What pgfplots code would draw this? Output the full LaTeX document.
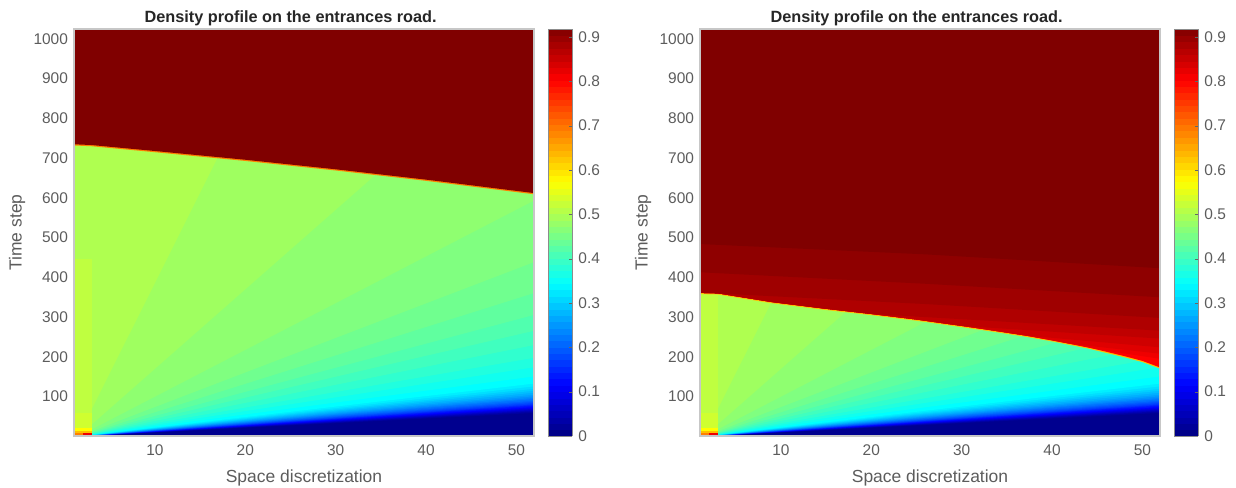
\documentclass[border=0pt]{standalone}
\usepackage{pgfplots}
\pgfplotsset{compat=1.18}
\usepackage{fontspec}
\setmainfont{Liberation Sans}
\newcommand\J[4]{\definecolor{j#1}{rgb}{#2,#3,#4}}
\J{0}{0}{0}{.5625}\J{1}{0}{0}{.625}\J{2}{0}{0}{.6875}\J{3}{0}{0}{.75}\J{4}{0}{0}{.8125}\J{5}{0}{0}{.875}\J{6}{0}{0}{.9375}\J{7}{0}{0}{1}
\J{8}{0}{.0625}{1}\J{9}{0}{.125}{1}\J{10}{0}{.1875}{1}\J{11}{0}{.25}{1}\J{12}{0}{.3125}{1}\J{13}{0}{.375}{1}\J{14}{0}{.4375}{1}\J{15}{0}{.5}{1}
\J{16}{0}{.5625}{1}\J{17}{0}{.625}{1}\J{18}{0}{.6875}{1}\J{19}{0}{.75}{1}\J{20}{0}{.8125}{1}\J{21}{0}{.875}{1}\J{22}{0}{.9375}{1}\J{23}{0}{1}{1}
\J{24}{.0625}{1}{.9375}\J{25}{.125}{1}{.875}\J{26}{.1875}{1}{.8125}\J{27}{.25}{1}{.75}\J{28}{.3125}{1}{.6875}\J{29}{.375}{1}{.625}\J{30}{.4375}{1}{.5625}\J{31}{.5}{1}{.5}
\J{32}{.5625}{1}{.4375}\J{33}{.625}{1}{.375}\J{34}{.6875}{1}{.3125}\J{35}{.75}{1}{.25}\J{36}{.8125}{1}{.1875}\J{38}{.9375}{1}{.0625}\J{39}{1}{1}{0}
\J{44}{1}{.75}{0}\J{48}{1}{.5}{0}\J{52}{1}{.25}{0}\J{55}{1}{0}{0}\J{56}{.9375}{0}{0}\J{57}{.875}{0}{0}\J{58}{.8125}{0}{0}\J{59}{.75}{0}{0}\J{60}{.6875}{0}{0}\J{61}{.625}{0}{0}\J{62}{.5625}{0}{0}\J{63}{.5}{0}{0}
\definecolor{txt}{rgb}{.36,.36,.36}
\pgfplotsset{
  panel/.style={
    scale only axis, width=345pt, height=305.25pt,
    anchor=south west,
    xmin=1.04, xmax=51.95, ymin=1, ymax=1025,
    xtick={10,20,30,40,50},
    ytick={100,200,300,400,500,600,700,800,900,1000},
    major tick length=0pt,
    axis on top,
    axis line style={draw=black!22, line width=1pt},
    tick label style={font=\fontsize{11.6}{12}\selectfont, text=txt, /pgf/number format/assume math mode=true, /pgf/number format/1000 sep={}},
    yticklabel style={xshift=-1pt},
    xticklabel style={yshift=-3pt},
    label style={font=\fontsize{13.1}{14}\selectfont, text=txt},
    xlabel={Space discretization},
    ylabel={Time step},
    xlabel style={at={(axis description cs:0.5,0)}, anchor=north, yshift=-21.7pt},
    ylabel style={at={(axis description cs:0,0.5)}, anchor=south, yshift=33pt},
    title={Density profile on the entrances road.},
    title style={font=\fontsize{12.2}{13}\selectfont\bfseries, text=black!85, at={(axis description cs:0.5,1)}, anchor=south, yshift=-7pt, xshift=-10pt},
    colorbar sampled,
    colormap/jet,
    point meta min=0, point meta max=0.918,
    colorbar style={
      samples=65,
      at={(parent axis.north east)}, anchor=north west, xshift=2.25pt,
      width=18pt, height=305.25pt,
      ytick={0,.1,.2,.3,.4,.5,.6,.7,.8,.9},
      yticklabels={0,0.1,0.2,0.3,0.4,0.5,0.6,0.7,0.8,0.9},
      ytick pos=right, yticklabel pos=right,
      major tick length=2.2pt,
      tick align=inside,
      major tick style={draw=black!60},
      axis line style={draw=black!45, line width=.5pt},
      yticklabel style={font=\fontsize{11.6}{12}\selectfont, text=txt, xshift=1pt},
      title={}, xlabel={}, ylabel={},
    },
  },
  band/.style={draw=none},
}
% rarefaction fan: lower ray of each colour level, from (1.5,0) to its height at x=52
\newcommand\fan{%
\addplot[band,fill=j0] coordinates {(1,1)(52,1)(52,2400)(1,2400)} --cycle;
\addplot[band,fill=j1] coordinates {(1.5,0)(52,59)(52,2400)(1.5,2400)} --cycle;
\addplot[band,fill=j2] coordinates {(1.5,0)(52,62)(52,2400)(1.5,2400)} --cycle;
\addplot[band,fill=j3] coordinates {(1.5,0)(52,64)(52,2400)(1.5,2400)} --cycle;
\addplot[band,fill=j4] coordinates {(1.5,0)(52,66)(52,2400)(1.5,2400)} --cycle;
\addplot[band,fill=j5] coordinates {(1.5,0)(52,68)(52,2400)(1.5,2400)} --cycle;
\addplot[band,fill=j6] coordinates {(1.5,0)(52,70)(52,2400)(1.5,2400)} --cycle;
\addplot[band,fill=j7] coordinates {(1.5,0)(52,72)(52,2400)(1.5,2400)} --cycle;
\addplot[band,fill=j8] coordinates {(1.5,0)(52,74)(52,2400)(1.5,2400)} --cycle;
\addplot[band,fill=j9] coordinates {(1.5,0)(52,77)(52,2400)(1.5,2400)} --cycle;
\addplot[band,fill=j10] coordinates {(1.5,0)(52,79)(52,2400)(1.5,2400)} --cycle;
\addplot[band,fill=j11] coordinates {(1.5,0)(52,81)(52,2400)(1.5,2400)} --cycle;
\addplot[band,fill=j12] coordinates {(1.5,0)(52,84)(52,2400)(1.5,2400)} --cycle;
\addplot[band,fill=j13] coordinates {(1.5,0)(52,87)(52,2400)(1.5,2400)} --cycle;
\addplot[band,fill=j14] coordinates {(1.5,0)(52,90)(52,2400)(1.5,2400)} --cycle;
\addplot[band,fill=j15] coordinates {(1.5,0)(52,94)(52,2400)(1.5,2400)} --cycle;
\addplot[band,fill=j16] coordinates {(1.5,0)(52,97)(52,2400)(1.5,2400)} --cycle;
\addplot[band,fill=j17] coordinates {(1.5,0)(52,101)(52,2400)(1.5,2400)} --cycle;
\addplot[band,fill=j18] coordinates {(1.5,0)(52,105)(52,2400)(1.5,2400)} --cycle;
\addplot[band,fill=j19] coordinates {(1.5,0)(52,110)(52,2400)(1.5,2400)} --cycle;
\addplot[band,fill=j20] coordinates {(1.5,0)(52,115)(52,2400)(1.5,2400)} --cycle;
\addplot[band,fill=j21] coordinates {(1.5,0)(52,120)(52,2400)(1.5,2400)} --cycle;
\addplot[band,fill=j22] coordinates {(1.5,0)(52,126)(52,2400)(1.5,2400)} --cycle;
\addplot[band,fill=j23] coordinates {(1.5,0)(52,133)(52,2400)(1.5,2400)} --cycle;
\addplot[band,fill=j24] coordinates {(1.5,0)(52,151)(52,2400)(1.5,2400)} --cycle;
\addplot[band,fill=j25] coordinates {(1.5,0)(52,174)(52,2400)(1.5,2400)} --cycle;
\addplot[band,fill=j26] coordinates {(1.5,0)(52,198)(52,2400)(1.5,2400)} --cycle;
\addplot[band,fill=j27] coordinates {(1.5,0)(52,230)(52,2400)(1.5,2400)} --cycle;
\addplot[band,fill=j28] coordinates {(1.5,0)(52,266)(52,2400)(1.5,2400)} --cycle;
\addplot[band,fill=j29] coordinates {(1.5,0)(52,306)(52,2400)(1.5,2400)} --cycle;
\addplot[band,fill=j30] coordinates {(1.5,0)(52,361)(52,2400)(1.5,2400)} --cycle;
\addplot[band,fill=j31] coordinates {(1.5,0)(52,439)(52,2400)(1.5,2400)} --cycle;
\addplot[band,fill=j32] coordinates {(1.5,0)(52,594)(52,2400)(1.5,2400)} --cycle;
\addplot[band,fill=j33] coordinates {(1.5,0)(52,1010)(52,2400)(1.5,2400)} --cycle;
\addplot[band,fill=j34] coordinates {(1.5,0)(52,2295)(52,2400)(1.5,2400)} --cycle;
% the first columns, x from 1 to 3
\addplot[band,fill=j34] coordinates {(1,447)(3,447)(3,2400)(1,2400)} --cycle;
\addplot[band,fill=j35] coordinates {(1,60)(3,60)(3,447)(1,447)} --cycle;
\addplot[band,fill=j36] coordinates {(1,20)(3,20)(3,60)(1,60)} --cycle;
\addplot[band,fill=j39] coordinates {(1,14)(3,14)(3,20)(1,20)} --cycle;
\addplot[band,fill=j44] coordinates {(1,8)(3,8)(3,14)(1,14)} --cycle;
\addplot[band,fill=j48] coordinates {(1,1)(2,1)(2,8)(1,8)} --cycle;
\addplot[band,fill=j56] coordinates {(2,1)(3,1)(3,8)(2,8)} --cycle;
}
\begin{document}
\begin{tikzpicture}
\path[use as bounding box] (0,0) rectangle (927pt,366pt);
\begin{axis}[panel, at={(55.5pt,39pt)}]
\fan
\addplot[band,fill=j48] coordinates {(1,732)(3,730)(10,715)(20,693)(30,669)(40,643)(52,609)(52,1100)(1,1100)} --cycle;
\addplot[band,fill=j63] coordinates {(1,735)(3,733)(10,718)(20,696)(30,672)(40,646)(52,612)(52,1100)(1,1100)} --cycle;
\end{axis}
\begin{axis}[panel, at={(525pt,39pt)}]
\fan
\addplot[band,fill=j44] coordinates {(1,358)(3,357)(6,346)(9,335)(15,318)(20,305)(25,291)(30,275)(33,265)(37,251)(40,239)(44,221)(48,199)(50,187)(52,170)(52,1100)(1,1100)} --cycle;
\addplot[band,fill=j55] coordinates {(1,361)(3,360)(6,349)(9,338)(15,321)(20,308)(25,294)(30,278)(33,268)(37,254)(40,242)(44,224)(48,202)(50,190)(52,173)(52,1100)(1,1100)} --cycle;
\addplot[band,fill=j56] coordinates {(1,361)(3,360)(6,349)(9,338)(15,321)(20,308)(25,294)(30,278)(33,268)(37,254)(40,242)(45,219)(52,195)(52,1100)(1,1100)} --cycle;
\addplot[band,fill=j57] coordinates {(1,361)(3,360)(6,349)(9,338)(15,321)(20,308)(25,294)(30,278)(33,268)(37,254)(42,233)(52,208)(52,1100)(1,1100)} --cycle;
\addplot[band,fill=j58] coordinates {(1,361)(3,360)(6,349)(9,338)(15,321)(20,308)(25,294)(30,278)(33,268)(37,254)(52,224)(52,1100)(1,1100)} --cycle;
\addplot[band,fill=j59] coordinates {(1,361)(3,360)(6,349)(9,338)(15,321)(20,308)(25,294)(30,278)(52,246)(52,1100)(1,1100)} --cycle;
\addplot[band,fill=j60] coordinates {(1,361)(3,360)(6,349)(9,338)(15,321)(20,308)(52,266)(52,1100)(1,1100)} --cycle;
\addplot[band,fill=j61] coordinates {(1,362)(26,333)(52,298)(52,1100)(1,1100)} --cycle;
\addplot[band,fill=j62] coordinates {(1,413)(26,384)(52,350)(52,1100)(1,1100)} --cycle;
\addplot[band,fill=j63] coordinates {(1,484)(26,458)(52,423)(52,1100)(1,1100)} --cycle;
\end{axis}
\end{tikzpicture}
\end{document}
